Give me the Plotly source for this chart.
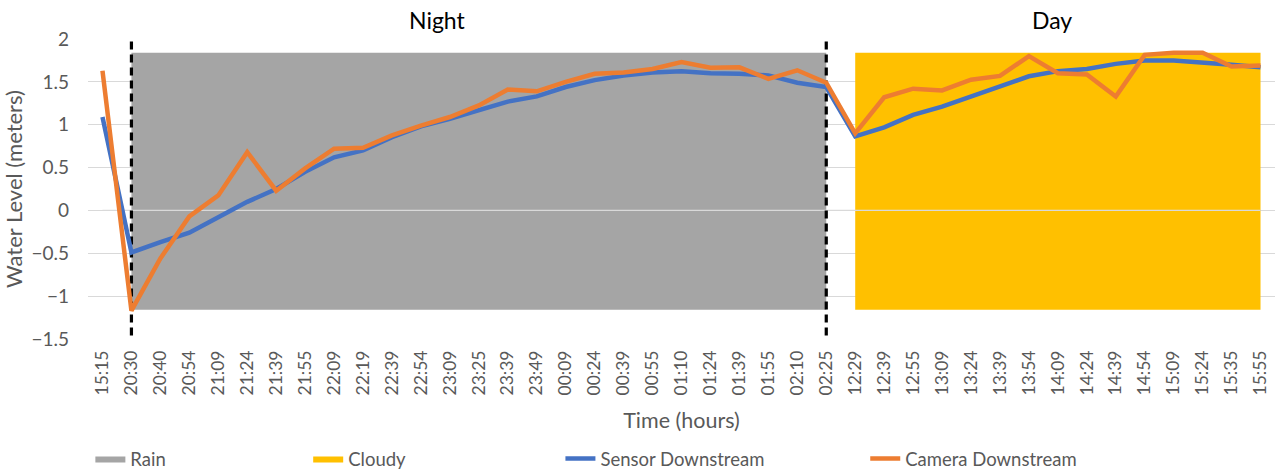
import plotly.graph_objects as go

times = ["15:15", "20:30", "20:40", "20:54", "21:09", "21:24", "21:39", "21:55", "22:09", "22:19",
         "22:39", "22:54", "23:09", "23:25", "23:39", "23:49", "00:09", "00:24", "00:39", "00:55",
         "01:10", "01:24", "01:39", "01:55", "02:10", "02:25", "12:29", "12:39", "12:55", "13:09",
         "13:24", "13:39", "13:54", "14:09", "14:24", "14:39", "14:54", "15:09", "15:24", "15:35",
         "15:55"]

sensor = [1.09, -0.49, -0.37, -0.26, -0.08, 0.10, 0.25, 0.45, 0.62, 0.70,
          0.855, 0.98, 1.07, 1.17, 1.27, 1.33, 1.44, 1.52, 1.575, 1.61,
          1.625, 1.60, 1.595, 1.575, 1.49, 1.44, 0.865, 0.97, 1.115, 1.21,
          1.33, 1.445, 1.565, 1.625, 1.65, 1.71, 1.75, 1.75, 1.73, 1.70,
          1.67]

camera = [1.63, -1.17, -0.56, -0.07, 0.175, 0.68, 0.23, 0.49, 0.72, 0.73,
          0.875, 0.99, 1.09, 1.225, 1.41, 1.39, 1.50, 1.595, 1.61, 1.65,
          1.73, 1.665, 1.67, 1.535, 1.635, 1.49, 0.90, 1.32, 1.42, 1.40,
          1.525, 1.57, 1.80, 1.60, 1.585, 1.33, 1.815, 1.84, 1.84, 1.68,
          1.69]

weather_names = ["Rain", "Cloudy"]
weather_start = ["20:30", "12:29"]
weather_end = ["02:25", "15:55"]
weather_top = [1.84, 1.84]
weather_bottom = [-1.16, -1.16]
weather_colors = ["#a5a5a5", "#ffc000"]

period_names = ["Night", "Day"]
period_label_pos = [11.56, 32.8]
boundaries = ["20:30", "02:25"]

font = "Lato, 'Open Sans', sans-serif"
grey_text = "#595959"

fig = go.Figure()

legend_ids = ["legend", "legend2", "legend3", "legend4"]

for i, name in enumerate(weather_names):
    s, e = weather_start[i], weather_end[i]
    fig.add_trace(go.Scatter(
        x=[s, e, e, s, s],
        y=[weather_bottom[i], weather_bottom[i], weather_top[i], weather_top[i], weather_bottom[i]],
        mode="lines", fill="toself", fillcolor=weather_colors[i],
        line=dict(width=0, color=weather_colors[i]),
        name=name, legend=legend_ids[i], hoverinfo="skip"))

# horizontal axis line at zero, drawn over the shaded areas
fig.add_trace(go.Scatter(x=[times[0], times[-1]], y=[0, 0], mode="lines",
                         line=dict(color="#d9d9d9", width=1.3), showlegend=False,
                         hoverinfo="skip"))

for b in boundaries:
    fig.add_trace(go.Scatter(x=[b, b], y=[-1.46, 2.0], mode="lines",
                             line=dict(color="black", width=3.2, dash="8px,5px"),
                             showlegend=False, hoverinfo="skip"))

fig.add_trace(go.Scatter(x=times, y=sensor, mode="lines", name="Sensor Downstream",
                         line=dict(color="#4472c4", width=4.5), legend="legend3"))
fig.add_trace(go.Scatter(x=times, y=camera, mode="lines", name="Camera Downstream",
                         line=dict(color="#ed7d31", width=4.5), legend="legend4"))

for name, pos in zip(period_names, period_label_pos):
    fig.add_annotation(x=pos, y=1, xref="x", yref="paper", text=name, showarrow=False,
                       yanchor="bottom", yshift=3, font=dict(size=23, color="black", family=font))

legend_x = [0.002, 0.1855, 0.398, 0.6548]
leg_common = dict(orientation="h", y=-0.4, yanchor="middle", xanchor="left",
                  font=dict(size=18.5, color=grey_text, family=font), bgcolor="rgba(0,0,0,0)")
fig.update_layout(
    legend=dict(x=legend_x[0], **leg_common),
    legend2=dict(x=legend_x[1], **leg_common),
    legend3=dict(x=legend_x[2], **leg_common),
    legend4=dict(x=legend_x[3], **leg_common),
)

fig.update_layout(
    width=1275, height=470,
    margin=dict(l=88, r=0, t=39, b=131, autoexpand=False),
    paper_bgcolor="white", plot_bgcolor="white",
    font=dict(family=font, color=grey_text),
    hovermode=False,
    xaxis=dict(type="category", categoryorder="array", categoryarray=times,
               range=[-0.5, len(times) - 0.5], tickangle=-90, showgrid=False,
               tickfont=dict(size=17.5, color=grey_text), ticks="", ticklabelstandoff=7,
               automargin=False,
               title=dict(text="Time (hours)", font=dict(size=21.5, color=grey_text), standoff=18),
               zeroline=False, showline=False),
    yaxis=dict(range=[-1.5, 2], tickvals=[-1.5, -1, -0.5, 0, 0.5, 1, 1.5, 2],
               showgrid=True, gridcolor="#d9d9d9", gridwidth=1, zeroline=False,
               automargin=False,
               tickfont=dict(size=19, color=grey_text), ticks="", ticklabelstandoff=18,
               title=dict(text="Water Level (meters)", font=dict(size=22, color=grey_text), standoff=3)),
)

fig.write_html("out.html", config={"displayModeBar": False},
               post_script="document.body.style.margin='0';document.body.style.padding='0';")
